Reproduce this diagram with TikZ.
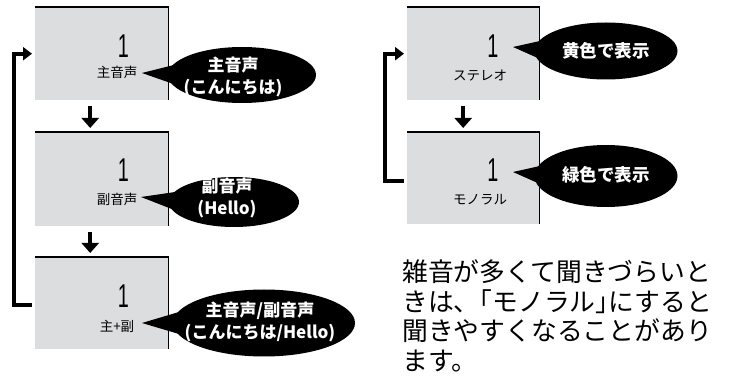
\documentclass[tikz,border=0pt]{standalone}
\usepackage{fontspec}
\setmainfont{Noto Sans CJK JP}
\newfontfamily\digitfont{Liberation Sans}[FakeStretch=0.6]
\usetikzlibrary{arrows.meta,calc}
\definecolor{boxgray}{RGB}{220,221,222}
\begin{document}
\begin{tikzpicture}[x=1pt,y=-1pt,
  screen/.style={fill=boxgray,minimum width=133pt,minimum height=93pt,inner sep=0pt,anchor=north west},
  frameline/.style={line width=1.6pt},
  digit/.style={font=\digitfont\fontsize{33}{33}\selectfont,inner sep=0pt},
  lbl/.style={font=\fontsize{13.5}{14}\selectfont,inner sep=0pt},
  bub/.style={fill=black},
  bubtext/.style={text=white,font=\bfseries\fontsize{17}{21.5}\selectfont,align=center,inner sep=0pt},
  loopline/.style={line width=4pt,-{Triangle[length=9pt,width=13pt]}},
  downarr/.style={line width=4pt,-{Triangle[length=10pt,width=17pt]}},
  note/.style={font=\fontsize{25.8}{29.6}\selectfont,anchor=west,inner sep=0pt,text height=22.7pt,text depth=3.1pt}
]
\useasboundingbox (0,0) rectangle (737,382);

% left column screens
\node[screen] (b1) at (35,7) {};
\node[screen,minimum height=94pt] (b2) at (35,132) {};
\node[screen,minimum height=92pt] (b3) at (35,257) {};
\foreach \b in {b1,b2,b3}{\draw[frameline] (\b.north west) -- (\b.north east) -- (\b.south east);}

% right column screens
\node[screen,minimum width=132pt] (r1) at (407,7) {};
\node[screen,minimum width=132pt,minimum height=92pt] (r2) at (407,132) {};
\foreach \b in {r1,r2}{\draw[frameline] (\b.north west) -- (\b.north east) -- (\b.south east);}

% digits and labels
\node[digit] (d1) at (123.4,46) {1};
\node[digit] (d2) at (123.4,170) {1};
\node[digit] (d3) at (123.4,296.5) {1};
\node[lbl] (l1) at (117,72) {主音声};
\node[lbl] (l2) at (117,199) {副音声};
\node[lbl] (l3) at (117,326) {主+副};
\node[digit] (rd1) at (493,46.5) {1};
\node[digit] (rd2) at (493,170.5) {1};
\node[lbl] (rl1) at (480,76) {ステレオ};
\node[lbl] (rl2) at (480,200) {モノラル};

% callouts
\coordinate (c1) at (242,75);
\coordinate (t1) at (142,73);
\fill[bub] (t1) -- ($(c1)+(-60,-12)$) -- ($(c1)+(-60,12)$) -- cycle;
\fill[bub] (c1) ellipse [x radius=74, y radius=28];
\node[bubtext] (c1t) at (233,77) {主音声\\(こんにちは)};

\coordinate (c2) at (234,202);
\coordinate (t2) at (141,197);
\fill[bub] (t2) -- ($(c2)+(-52,-11)$) -- ($(c2)+(-52,11)$) -- cycle;
\fill[bub] (c2) ellipse [x radius=65, y radius=25];
\node[bubtext] (c2t) at (227,198) {副音声\\(Hello)};

\coordinate (c3) at (264,323);
\coordinate (t3) at (142,323);
\fill[bub] (t3) -- ($(c3)+(-75,-14)$) -- ($(c3)+(-75,14)$) -- cycle;
\fill[bub] (c3) ellipse [x radius=91, y radius=33.5];
\node[bubtext] (c3t) at (260,322) {主音声/副音声\\(こんにちは/Hello)};

\coordinate (rc1) at (606,51);
\coordinate (rt1) at (513,47);
\fill[bub] (rt1) -- ($(rc1)+(-57,-12)$) -- ($(rc1)+(-57,12)$) -- cycle;
\fill[bub] (rc1) ellipse [x radius=71.5, y radius=28.5];
\node[bubtext,font=\bfseries\fontsize{17.5}{21}\selectfont] (rc1t) at (606,51) {黄色で表示};

\coordinate (rc2) at (606,176);
\coordinate (rt2) at (513,172);
\fill[bub] (rt2) -- ($(rc2)+(-57,-12)$) -- ($(rc2)+(-57,12)$) -- cycle;
\fill[bub] (rc2) ellipse [x radius=71.5, y radius=31];
\node[bubtext,font=\bfseries\fontsize{17.5}{21}\selectfont] (rc2t) at (606,175) {緑色で表示};

% arrows
\draw[downarr] ([xshift=-11.5pt,yshift=-6pt]b1.south) -- ([xshift=-11.5pt,yshift=4pt]b2.north);
\draw[downarr] ([xshift=-11.5pt,yshift=-6pt]b2.south) -- ([xshift=-11.5pt,yshift=4pt]b3.north);
\draw[downarr] ([xshift=-10pt,yshift=-6pt]r1.south) -- ([xshift=-10pt,yshift=4pt]r2.north);
\draw[loopline] ([xshift=-3pt,yshift=-2pt]b3.west) -- ++(-18,0) |- ([xshift=-3pt]b1.west);
\draw[loopline] ([xshift=-3pt,yshift=-3pt]r2.west) -- ++(-19,0) |- ([xshift=-3pt]r1.west);

% note
\node[note] (n1) at (402,272) {雑音が多くて聞きづらいと};
\node[note] (n2) at (402,301.6) {きは、\kern-.5em「モノラル」\kern-.5emにすると};
\node[note] (n3) at (402,331.2) {聞きやすくなることがあり};
\node[note] (n4) at (402,360.8) {ます。};
\end{tikzpicture}
\end{document}
